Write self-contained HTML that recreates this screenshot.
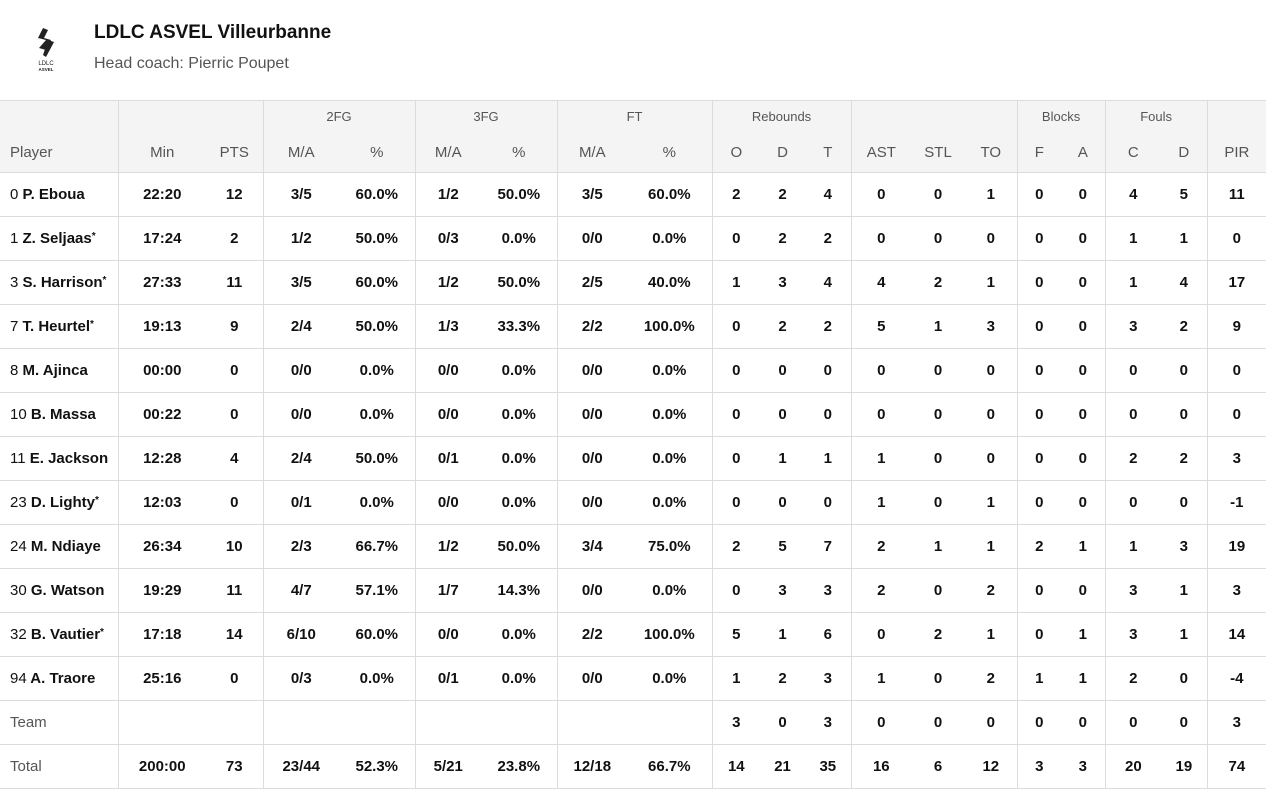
<!DOCTYPE html>
<html><head><meta charset="utf-8"><style>
body{margin:0;width:1266px;height:788px;background:#fff;font-family:"Liberation Sans",sans-serif;overflow:hidden;position:relative}
.hd{position:absolute;left:94px;top:22px;font-size:19px;font-weight:bold;color:#111}
.hc{position:absolute;left:94px;top:55px;font-size:16px;color:#555}
table{position:absolute;left:0;top:100px;border-collapse:collapse;table-layout:fixed;width:1266px}
td,th{padding:0;text-align:center;border-top:1px solid #dcdcdc;border-bottom:1px solid #dcdcdc}
thead th{background:#f4f4f4;font-weight:normal;color:#555}
.g th{height:31px;font-size:13px;border-bottom:none}
.s th{height:40px;font-size:15px;border-top:none}
tbody td{height:43px;font-size:15px;font-weight:bold;color:#111}
tbody td:first-child{text-align:left;padding-left:10px}
tbody td:first-child span{font-weight:normal}
sup{font-size:10px;vertical-align:4px}
.L{border-left:1px solid #dcdcdc}
tbody td:nth-child(2),tbody td:nth-child(4),tbody td:nth-child(6),tbody td:nth-child(8),tbody td:nth-child(10),tbody td:nth-child(13),tbody td:nth-child(16),tbody td:nth-child(18),tbody td:nth-child(20){border-left:1px solid #dcdcdc}
tr.n td:first-child{font-weight:normal;color:#555}
</style></head><body>
<svg style="position:absolute;left:34px;top:26px" width="24" height="46" viewBox="0 0 24 46">
<path d="M9 2 L4 12 L12 14 L5 22 L12 24 L17 14 L10 12 L14 4 Z" fill="#222"/>
<path d="M14 14 L20 16 L12 31 L9 29 Z" fill="#222"/>
<text x="12" y="39" font-size="6" text-anchor="middle" fill="#222" font-family="Liberation Sans">LDLC</text>
<text x="12" y="45" font-size="4.5" font-weight="bold" text-anchor="middle" fill="#222" font-family="Liberation Sans">ASVEL</text>
</svg>
<div class="hd">LDLC ASVEL Villeurbanne</div>
<div class="hc">Head coach: Pierric Poupet</div>
<table>
<colgroup><col style="width:118px"><col style="width:88px"><col style="width:57px"><col style="width:76px"><col style="width:76px"><col style="width:66px"><col style="width:76px"><col style="width:70px"><col style="width:85px"><col style="width:48px"><col style="width:45px"><col style="width:46px"><col style="width:60px"><col style="width:54px"><col style="width:52px"><col style="width:44px"><col style="width:44px"><col style="width:56px"><col style="width:46px"><col style="width:59px"></colgroup>
<thead>
<tr class="g"><th></th><th colspan="2" class="L"></th><th colspan="2" class="L">2FG</th><th colspan="2" class="L">3FG</th><th colspan="2" class="L">FT</th><th colspan="3" class="L">Rebounds</th><th colspan="3" class="L"></th><th colspan="2" class="L">Blocks</th><th colspan="2" class="L">Fouls</th><th class="L"></th></tr>
<tr class="s"><th style="text-align:left;padding-left:10px">Player</th><th class="L">Min</th><th>PTS</th><th class="L">M/A</th><th>%</th><th class="L">M/A</th><th>%</th><th class="L">M/A</th><th>%</th><th class="L">O</th><th>D</th><th>T</th><th class="L">AST</th><th>STL</th><th>TO</th><th class="L">F</th><th>A</th><th class="L">C</th><th>D</th><th class="L">PIR</th></tr>
</thead>
<tbody>
<tr><td><span>0</span> P. Eboua</td><td>22:20</td><td>12</td><td>3/5</td><td>60.0%</td><td>1/2</td><td>50.0%</td><td>3/5</td><td>60.0%</td><td>2</td><td>2</td><td>4</td><td>0</td><td>0</td><td>1</td><td>0</td><td>0</td><td>4</td><td>5</td><td>11</td></tr>
<tr><td><span>1</span> Z. Seljaas<sup>*</sup></td><td>17:24</td><td>2</td><td>1/2</td><td>50.0%</td><td>0/3</td><td>0.0%</td><td>0/0</td><td>0.0%</td><td>0</td><td>2</td><td>2</td><td>0</td><td>0</td><td>0</td><td>0</td><td>0</td><td>1</td><td>1</td><td>0</td></tr>
<tr><td><span>3</span> S. Harrison<sup>*</sup></td><td>27:33</td><td>11</td><td>3/5</td><td>60.0%</td><td>1/2</td><td>50.0%</td><td>2/5</td><td>40.0%</td><td>1</td><td>3</td><td>4</td><td>4</td><td>2</td><td>1</td><td>0</td><td>0</td><td>1</td><td>4</td><td>17</td></tr>
<tr><td><span>7</span> T. Heurtel<sup>*</sup></td><td>19:13</td><td>9</td><td>2/4</td><td>50.0%</td><td>1/3</td><td>33.3%</td><td>2/2</td><td>100.0%</td><td>0</td><td>2</td><td>2</td><td>5</td><td>1</td><td>3</td><td>0</td><td>0</td><td>3</td><td>2</td><td>9</td></tr>
<tr><td><span>8</span> M. Ajinca</td><td>00:00</td><td>0</td><td>0/0</td><td>0.0%</td><td>0/0</td><td>0.0%</td><td>0/0</td><td>0.0%</td><td>0</td><td>0</td><td>0</td><td>0</td><td>0</td><td>0</td><td>0</td><td>0</td><td>0</td><td>0</td><td>0</td></tr>
<tr><td><span>10</span> B. Massa</td><td>00:22</td><td>0</td><td>0/0</td><td>0.0%</td><td>0/0</td><td>0.0%</td><td>0/0</td><td>0.0%</td><td>0</td><td>0</td><td>0</td><td>0</td><td>0</td><td>0</td><td>0</td><td>0</td><td>0</td><td>0</td><td>0</td></tr>
<tr><td><span>11</span> E. Jackson</td><td>12:28</td><td>4</td><td>2/4</td><td>50.0%</td><td>0/1</td><td>0.0%</td><td>0/0</td><td>0.0%</td><td>0</td><td>1</td><td>1</td><td>1</td><td>0</td><td>0</td><td>0</td><td>0</td><td>2</td><td>2</td><td>3</td></tr>
<tr><td><span>23</span> D. Lighty<sup>*</sup></td><td>12:03</td><td>0</td><td>0/1</td><td>0.0%</td><td>0/0</td><td>0.0%</td><td>0/0</td><td>0.0%</td><td>0</td><td>0</td><td>0</td><td>1</td><td>0</td><td>1</td><td>0</td><td>0</td><td>0</td><td>0</td><td>-1</td></tr>
<tr><td><span>24</span> M. Ndiaye</td><td>26:34</td><td>10</td><td>2/3</td><td>66.7%</td><td>1/2</td><td>50.0%</td><td>3/4</td><td>75.0%</td><td>2</td><td>5</td><td>7</td><td>2</td><td>1</td><td>1</td><td>2</td><td>1</td><td>1</td><td>3</td><td>19</td></tr>
<tr><td><span>30</span> G. Watson</td><td>19:29</td><td>11</td><td>4/7</td><td>57.1%</td><td>1/7</td><td>14.3%</td><td>0/0</td><td>0.0%</td><td>0</td><td>3</td><td>3</td><td>2</td><td>0</td><td>2</td><td>0</td><td>0</td><td>3</td><td>1</td><td>3</td></tr>
<tr><td><span>32</span> B. Vautier<sup>*</sup></td><td>17:18</td><td>14</td><td>6/10</td><td>60.0%</td><td>0/0</td><td>0.0%</td><td>2/2</td><td>100.0%</td><td>5</td><td>1</td><td>6</td><td>0</td><td>2</td><td>1</td><td>0</td><td>1</td><td>3</td><td>1</td><td>14</td></tr>
<tr><td><span>94</span> A. Traore</td><td>25:16</td><td>0</td><td>0/3</td><td>0.0%</td><td>0/1</td><td>0.0%</td><td>0/0</td><td>0.0%</td><td>1</td><td>2</td><td>3</td><td>1</td><td>0</td><td>2</td><td>1</td><td>1</td><td>2</td><td>0</td><td>-4</td></tr>
<tr class="n"><td>Team</td><td></td><td></td><td></td><td></td><td></td><td></td><td></td><td></td><td>3</td><td>0</td><td>3</td><td>0</td><td>0</td><td>0</td><td>0</td><td>0</td><td>0</td><td>0</td><td>3</td></tr>
<tr class="n"><td>Total</td><td>200:00</td><td>73</td><td>23/44</td><td>52.3%</td><td>5/21</td><td>23.8%</td><td>12/18</td><td>66.7%</td><td>14</td><td>21</td><td>35</td><td>16</td><td>6</td><td>12</td><td>3</td><td>3</td><td>20</td><td>19</td><td>74</td></tr>
</tbody></table>
</body></html>
